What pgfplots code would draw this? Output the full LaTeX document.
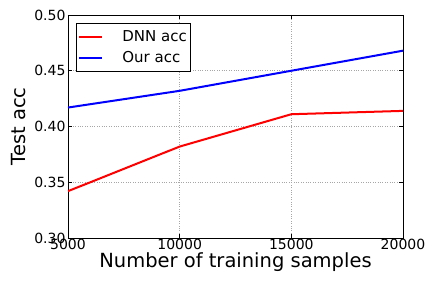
\documentclass[border=0pt]{standalone}
\usepackage{pgfplots}
\pgfplotsset{compat=1.18}
\usepackage{fontspec}
\setmainfont{DejaVu Sans}
\begin{document}
\begin{tikzpicture}
\begin{axis}[
  scale only axis,
  width=335pt, height=223pt,
  xmin=5000, xmax=20000, ymin=0.30, ymax=0.50,
  xtick={5000,10000,15000,20000},
  ytick={0.30,0.35,0.40,0.45,0.50},
  /pgf/number format/assume math mode=true,
  xticklabel style={yshift=2pt, /pgf/number format/.cd,fixed,1000 sep={}},
  yticklabel style={xshift=1pt, /pgf/number format/.cd,fixed,fixed zerofill,precision=2},
  scaled x ticks=false, scaled y ticks=false,
  tick label style={font=\fontsize{14}{16}\selectfont},
  label style={font=\fontsize{19.5}{22}\selectfont},
  xlabel={Number of training samples},
  ylabel={Test acc},
  xlabel style={yshift=4pt},
  ylabel style={yshift=2pt},
  tick align=inside,
  major tick length=4pt,
  tick style={black, line width=0.6pt},
  axis line style={line width=0.8pt},
  grid=major,
  grid style={gray!70, dotted, line width=0.6pt},
  legend style={at={(rel axis cs:0,1)}, xshift=8pt, yshift=-8pt, anchor=north west, draw=black, line width=0.8pt, font=\fontsize{15}{17}\selectfont, row sep=5pt, inner xsep=2pt, inner ysep=5pt,
    /tikz/every odd column/.append style={column sep=17pt}},
  legend cell align=left,
  legend image code/.code={\draw[#1, line width=2pt] (6pt,0pt) -- (29pt,0pt);},
]
\addplot[red, line width=2pt] coordinates {(5000,0.342) (10000,0.382) (15000,0.411) (20000,0.414)};
\addlegendentry{DNN acc}
\addplot[blue, line width=2pt] coordinates {(5000,0.417) (10000,0.432) (15000,0.450) (20000,0.468)};
\addlegendentry{Our acc}
\end{axis}
\path (current axis.south west) ++(-68pt,-50pt) coordinate (bl);
\path (current axis.north east) ++(31pt,15pt) coordinate (tr);
\path (bl) rectangle (tr);
\end{tikzpicture}
\end{document}
